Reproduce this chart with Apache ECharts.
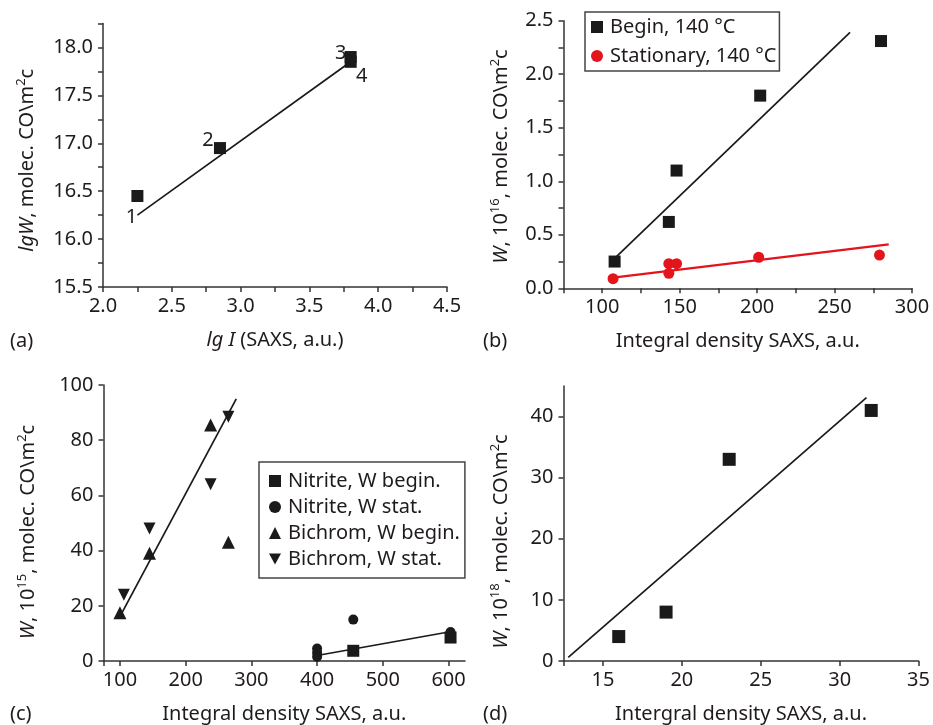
<!DOCTYPE html>
<html>
<head>
<meta charset="utf-8">
<script src="https://cdn.jsdelivr.net/npm/echarts@6/dist/echarts.min.js"></script>
<style>
  html, body { margin: 0; padding: 0; background: #fff; }
  #chart { width: 933px; height: 725px; }
</style>
</head>
<body>
<div id="chart"></div>
<script>
// ---------- (a) lgW vs lg I ----------
const aX = [2.25, 2.85, 3.8, 3.8];
const aY = [16.45, 16.95, 17.9, 17.85];
const aPointLabels = ['1', '2', '3', '4'];
const aFitX = [2.25, 3.78];
const aFitY = [16.25, 17.83];

// ---------- (b) W vs integral density, 140 °C ----------
const bBeginX = [108, 143, 148, 202, 280];
const bBeginY = [0.25, 0.62, 1.10, 1.80, 2.31];
const bStatX = [107, 143, 143, 148, 201, 279];
const bStatY = [0.09, 0.23, 0.14, 0.23, 0.29, 0.31];
const bBeginFitX = [108, 260];
const bBeginFitY = [0.28, 2.39];
const bStatFitX = [107, 285];
const bStatFitY = [0.10, 0.41];

// ---------- (c) nitrite / bichromate ----------
const cNitBeginX = [455, 603];
const cNitBeginY = [3.7, 8.5];
const cNitStatX = [400, 400, 400, 455, 603];
const cNitStatY = [4.5, 3.0, 1.5, 15, 10.5];
const cBiBeginX = [100, 145, 238, 265];
const cBiBeginY = [17.5, 39, 85.5, 43];
const cBiStatX = [106, 145, 238, 265];
const cBiStatY = [24, 48, 64, 88.5];
const cBiFitX = [101, 277];
const cBiFitY = [16.5, 95];
const cNitFitX = [400, 600];
const cNitFitY = [2, 10.5];

// ---------- (d) W vs integral density ----------
const dX = [16, 19, 23, 32];
const dY = [4, 8, 33, 41];
const dFitX = [12.8, 31.7];
const dFitY = [0.6, 43.1];

// tick labels
const aXTickLabels = [2.0, 2.5, 3.0, 3.5, 4.0, 4.5];
const aYTickLabels = [15.5, 16.0, 16.5, 17.0, 17.5, 18.0];
const bXTickLabels = [100, 150, 200, 250, 300];
const bYTickLabels = [0.0, 0.5, 1.0, 1.5, 2.0, 2.5];
const cXTickLabels = [100, 200, 300, 400, 500, 600];
const dXTickLabels = [15, 20, 25, 30, 35];
const dYTickLabels = [0, 10, 20, 30, 40];

const pairs = (xs, ys) => xs.map((x, i) => [x, ys[i]]);

const FONT = 'Noto Sans';
const FS = 20;
const INK = '#1f1b1c';
const AXIS = '#333333';
const RED = '#e3141b';
const DOWN_TRI = 'path://M0,0 L10,0 L5,9 Z';

const nameRich = {
  i: { fontStyle: 'italic', fontSize: FS, fontFamily: FONT, color: INK },
  sup: { fontSize: 13, fontFamily: FONT, color: INK, padding: [0, 0, 12, 0] }
};

function fmtOneDecimal(list) {
  return v => list.some(t => Math.abs(t - v) < 1e-9) ? v.toFixed(1) : '';
}

function axisBase() {
  return {
    type: 'value',
    splitLine: { show: false },
    axisLine: { show: true, onZero: false, lineStyle: { color: AXIS, width: 1.5 } },
    axisTick: { show: true, inside: false, length: 5, lineStyle: { color: AXIS, width: 1.5 } },
    axisLabel: { color: INK, fontFamily: FONT, fontSize: FS, showMinLabel: true, showMaxLabel: true },
    nameTextStyle: { color: INK, fontFamily: FONT, fontSize: FS, rich: nameRich },
    nameLocation: 'middle'
  };
}

function merge(base, extra) {
  const out = Object.assign({}, base, extra);
  ['axisLine', 'axisTick', 'axisLabel', 'nameTextStyle'].forEach(k => {
    if (extra[k]) out[k] = Object.assign({}, base[k], extra[k]);
  });
  return out;
}

const grids = [
  { left: 103, top: 23.5, width: 344, height: 263.5 },
  { left: 563.5, top: 20.7, width: 348.5, height: 267.6 },
  { left: 103.5, top: 385, width: 361.5, height: 276.7 },
  { left: 563.5, top: 386, width: 359.8, height: 275.7 }
];

const xAxes = [
  merge(axisBase(), {
    gridIndex: 0, min: 2.0, max: 4.5, interval: 0.25,
    axisLabel: { formatter: fmtOneDecimal(aXTickLabels), margin: 9 },
    name: '{i|lg I} (SAXS, a.u.)', nameGap: 43
  }),
  merge(axisBase(), {
    gridIndex: 1, min: 75, max: 300, interval: 25,
    axisLabel: { formatter: v => bXTickLabels.includes(v) ? String(v) : '', margin: 9 },
    name: 'Integral density SAXS, a.u.', nameGap: 43
  }),
  merge(axisBase(), {
    gridIndex: 2, min: 75, max: 625,
    axisTick: { customValues: [75].concat(cXTickLabels) },
    axisLabel: { customValues: cXTickLabels, margin: 9 },
    name: 'Integral density SAXS, a.u.', nameGap: 43
  }),
  merge(axisBase(), {
    gridIndex: 3, min: 12.5, max: 35,
    axisTick: { customValues: [12.5].concat(dXTickLabels) },
    axisLabel: { customValues: dXTickLabels, margin: 9 },
    name: 'Intergral density SAXS, a.u.', nameGap: 43
  })
];

// the right-hand padding of a rotated name nudges the text down along the axis
const yAxes = [
  merge(axisBase(), {
    gridIndex: 0, min: 15.5, max: 18.25, interval: 0.25,
    axisLabel: { formatter: fmtOneDecimal(aYTickLabels), margin: 10 },
    nameTextStyle: { padding: [0, 10, 0, 0] },
    name: '{i|lgW}, molec. CO\\m{sup|2}c', nameGap: 63
  }),
  merge(axisBase(), {
    gridIndex: 1, min: 0, max: 2.5, interval: 0.25,
    axisLabel: { formatter: fmtOneDecimal(bYTickLabels), margin: 10 },
    nameTextStyle: { padding: [0, 4, 0, 0] },
    name: '{i|W}, 10{sup|16}, molec. CO\\m{sup|2}c', nameGap: 50
  }),
  merge(axisBase(), {
    gridIndex: 2, min: 0, max: 100, interval: 20,
    axisLabel: { margin: 10 },
    nameTextStyle: { padding: [0, 18, 0, 0] },
    name: '{i|W}, 10{sup|15}, molec. CO\\m{sup|2}c', nameGap: 63
  }),
  merge(axisBase(), {
    gridIndex: 3, min: 0, max: 45,
    axisTick: { customValues: dYTickLabels },
    axisLabel: { customValues: dYTickLabels, margin: 10 },
    nameTextStyle: { padding: [0, 36, 0, 0] },
    name: '{i|W}, 10{sup|18}, molec. CO\\m{sup|2}c', nameGap: 50
  })
];

function fitLine(name, idx, xs, ys, color, width) {
  return {
    name: name, type: 'line', xAxisIndex: idx, yAxisIndex: idx,
    data: pairs(xs, ys), showSymbol: false, symbol: 'none',
    lineStyle: { color: color, width: width }, z: 1, silent: true
  };
}

function scatter(name, idx, xs, ys, symbol, size, color) {
  return {
    name: name, type: 'scatter', xAxisIndex: idx, yAxisIndex: idx,
    data: pairs(xs, ys), symbol: symbol, symbolSize: size,
    itemStyle: { color: color, opacity: 1 }, z: 3
  };
}

// per-point label offsets for the numbered points in (a)
const aLabelOffsets = [[-6, 21], [-12, -8], [-10, -4], [11, 14]];
const aSeries = scatter('lgW', 0, aX, aY, 'rect', 12, '#1a1a1a');
aSeries.data = aX.map((x, i) => ({
  value: [x, aY[i]],
  label: {
    show: true, formatter: aPointLabels[i], position: 'inside',
    offset: aLabelOffsets[i], color: INK, fontFamily: FONT, fontSize: FS
  }
}));

const series = [
  fitLine('fit a', 0, aFitX, aFitY, '#1a1a1a', 1.7),
  aSeries,

  fitLine('fit b begin', 1, bBeginFitX, bBeginFitY, '#1a1a1a', 1.7),
  fitLine('fit b stat', 1, bStatFitX, bStatFitY, RED, 2.3),
  scatter('Begin, 140 °C', 1, bBeginX, bBeginY, 'rect', 12, '#1a1a1a'),
  scatter('Stationary, 140 °C', 1, bStatX, bStatY, 'circle', 11, RED),

  fitLine('fit c bichrom', 2, cBiFitX, cBiFitY, '#1a1a1a', 1.7),
  fitLine('fit c nitrite', 2, cNitFitX, cNitFitY, '#1a1a1a', 1.7),
  scatter('Nitrite, W begin.', 2, cNitBeginX, cNitBeginY, 'rect', 12, '#1a1a1a'),
  scatter('Nitrite, W stat.', 2, cNitStatX, cNitStatY, 'circle', 10, '#1a1a1a'),
  scatter('Bichrom, W begin.', 2, cBiBeginX, cBiBeginY, 'triangle', 13, '#1a1a1a'),
  scatter('Bichrom, W stat.', 2, cBiStatX, cBiStatY, DOWN_TRI, 12, '#1a1a1a'),

  fitLine('fit d', 3, dFitX, dFitY, '#1a1a1a', 1.7),
  scatter('W d', 3, dX, dY, 'rect', 13, '#1a1a1a')
];

const legendText = { color: INK, fontFamily: FONT, fontSize: FS, lineHeight: 20, padding: [0, 0, 0, 2] };

const legends = [
  {
    orient: 'vertical', left: 585, top: 12,
    borderColor: '#444', borderWidth: 1.5, padding: [5, 3, 5, 6],
    itemGap: 9, itemWidth: 12, itemHeight: 12,
    textStyle: legendText,
    data: [
      { name: 'Begin, 140 °C', icon: 'rect' },
      { name: 'Stationary, 140 °C', icon: 'circle' }
    ]
  },
  {
    orient: 'vertical', left: 259, top: 462,
    borderColor: '#444', borderWidth: 1.5, padding: [9, 5, 9, 10],
    itemGap: 6, itemWidth: 12, itemHeight: 12,
    textStyle: legendText,
    data: [
      { name: 'Nitrite, W begin.', icon: 'rect' },
      { name: 'Nitrite, W stat.', icon: 'circle' },
      { name: 'Bichrom, W begin.', icon: 'triangle' },
      { name: 'Bichrom, W stat.', icon: DOWN_TRI }
    ]
  }
];

const panelLetters = [
  { text: '(a)', x: 10, y: 331 },
  { text: '(b)', x: 483, y: 331 },
  { text: '(c)', x: 10, y: 704 },
  { text: '(d)', x: 483, y: 704 }
];

const chart = echarts.init(document.getElementById('chart'), null, { renderer: 'canvas' });
chart.setOption({
  animation: false,
  backgroundColor: '#fff',
  textStyle: { fontFamily: FONT },
  grid: grids,
  xAxis: xAxes,
  yAxis: yAxes,
  legend: legends,
  series: series,
  graphic: panelLetters.map(p => ({
    type: 'text', left: p.x, top: p.y,
    style: { text: p.text, fill: INK, font: FS + 'px "Noto Sans"' }
  }))
});
</script>
</body>
</html>
